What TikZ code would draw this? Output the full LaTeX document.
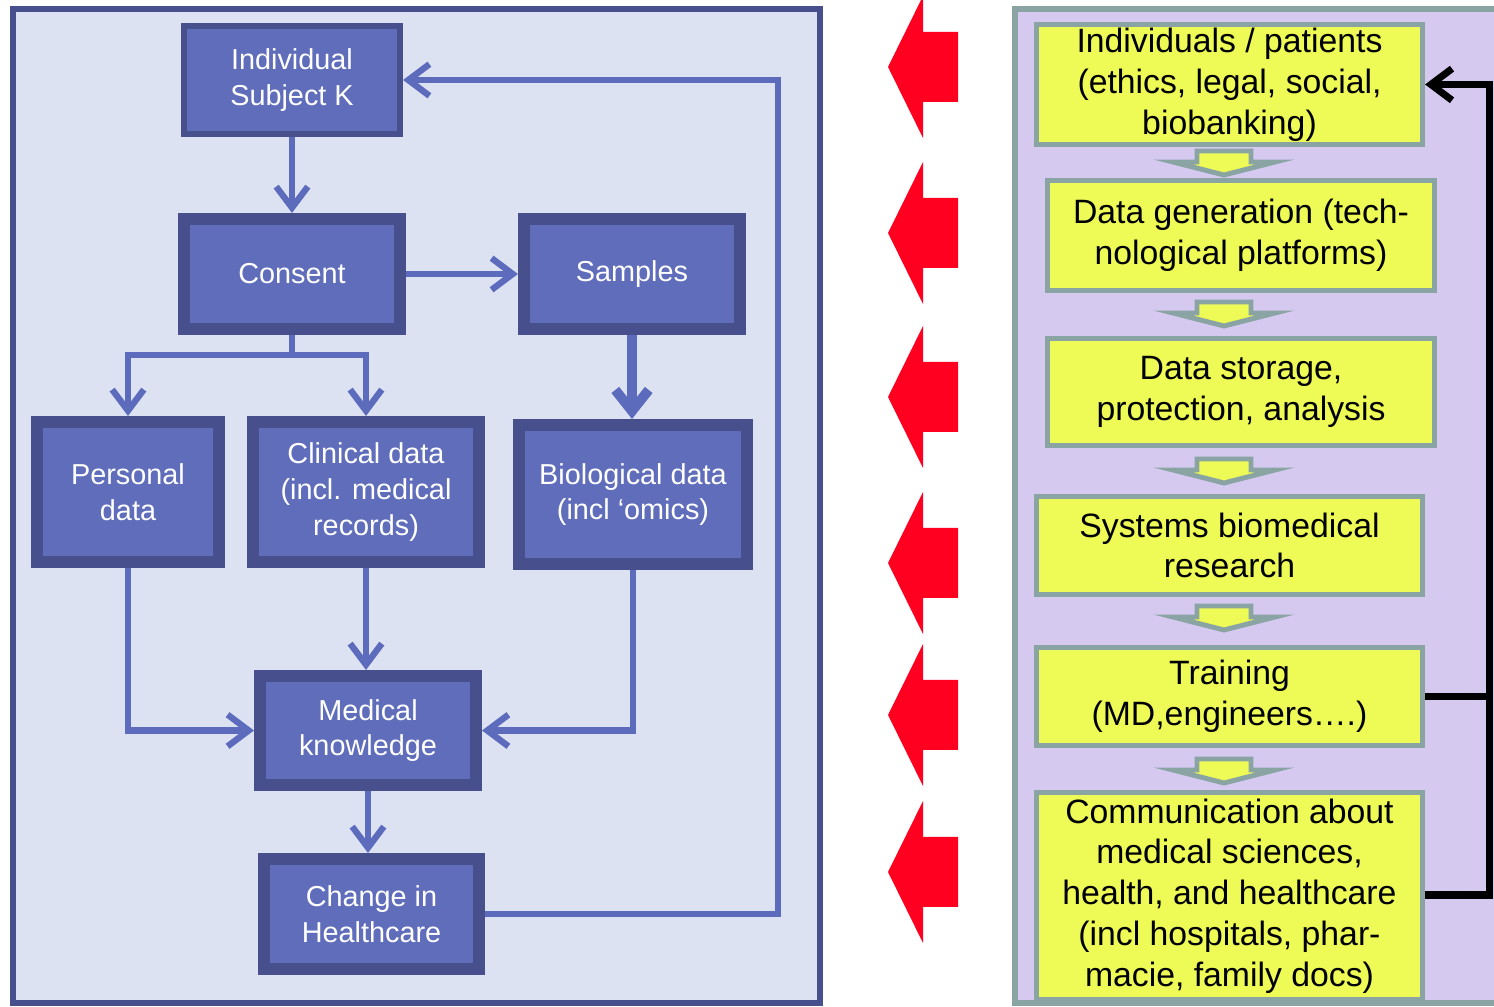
\documentclass[tikz,border=0pt]{standalone}
\usepackage{fontspec}
\setmainfont{Liberation Sans}
\usetikzlibrary{arrows.meta}
\definecolor{lbg}{HTML}{DDE2F2}
\definecolor{lbord}{HTML}{47508C}
\definecolor{lfill}{HTML}{5F6DBB}
\definecolor{lconn}{HTML}{5D6BBC}
\definecolor{rbg}{HTML}{D5C9EF}
\definecolor{rbord}{HTML}{8AA3A3}
\definecolor{yfill}{HTML}{EEFA55}
\definecolor{redarr}{HTML}{FF0020}
\tikzset{
  lbox/.style={draw=lbord, fill=lfill, line width=3.4pt, text=white, align=center,
    font=\fontsize{8.2}{10.2}\selectfont, inner sep=0pt},
  lboxthin/.style={lbox, line width=1.7pt},
  ybox/.style={draw=rbord, fill=yfill, line width=1.4pt, text=black, align=center,
    font=\fontsize{9.6}{11.6}\selectfont, inner sep=0pt},
  conn/.style={draw=lconn, line width=1.8pt},
  ltip/.style={-{Straight Barb[length=6pt,width=9pt]}},
  btip/.style={-{Straight Barb[length=6pt,width=9pt]}},
  blk/.style={draw=black, line width=2pt},
}
\begin{document}
\begin{tikzpicture}[x=0.01cm,y=-0.01cm]
\useasboundingbox (0,0) rectangle (1494,1007);
% left panel
\draw[draw=lbord, fill=lbg, line width=1.7pt] (13,9.5) rectangle (820,1003);
% right panel
\draw[draw=rbord, fill=rbg, line width=1.7pt] (1015,9.5) rectangle (1520,1003);

% left nodes
\node[lboxthin, minimum width=2.16cm, minimum height=1.08cm] (ind) at (292,80) {Individual\\Subject K};
\node[lbox, minimum width=2.16cm, minimum height=1.10cm] (cons) at (292,274) {Consent};
\node[lbox, minimum width=2.16cm, minimum height=1.10cm] (samp) at (632,274) {Samples};
\node[lbox, minimum width=1.82cm, minimum height=1.40cm] (pers) at (128,492) {Personal\\data};
\node[lbox, minimum width=2.26cm, minimum height=1.40cm] (clin) at (366,492) {Clinical data\\(incl. medical\\records)};
\node[lbox, minimum width=2.27cm, minimum height=1.39cm] (bio) at (633,494.5) {Biological data\\(incl ‘omics)};
\node[lbox, minimum width=2.16cm, minimum height=1.09cm] (med) at (368,730.5) {Medical\\knowledge};
\node[lbox, minimum width=2.15cm, minimum height=1.10cm] (chg) at (371.5,914) {Change in\\Healthcare};

% left connectors
\coordinate (br) at (292,355);
\coordinate (lpt) at (778,80);
\draw[conn,ltip] (ind.south) -- (ind.south |- cons.north);
\draw[conn,ltip] (cons.east) -- (samp.west);
\draw[conn] (cons.south) -- (br);
\draw[conn,ltip] (br) -| (pers.north);
\draw[conn,ltip] (br) -| (clin.north);
\draw[conn,line width=2.8pt,-{Straight Barb[length=6pt,width=9.5pt]}] (samp.south) -- (samp.south |- bio.north);
\draw[conn,ltip] (clin.south) -- (clin.south |- med.north);
\draw[conn,ltip] (pers.south) |- (med.west);
\draw[conn,ltip] (bio.south) |- (med.east);
\draw[conn,ltip] (med.south) -- (med.south |- chg.north);
\draw[conn,ltip] (chg.east) -| (lpt) -- (ind.east);

% red arrows
\foreach \c in {67,233,397,563,715,872}{
  \fill[redarr] (958,\c-35) -- (923,\c-35) -- (923,\c-71) -- (888,\c) -- (923,\c+71) -- (923,\c+35) -- (958,\c+35) -- cycle;
}

% right nodes
\node[ybox, minimum width=3.86cm, minimum height=1.20cm] (r1) at (1229.5,84.5) {Individuals / patients\\(ethics, legal, social,\\biobanking)};
\node[ybox, minimum width=3.87cm, minimum height=1.10cm] (r2) at (1241,235.5) {Data generation (tech-\\nological platforms)};
\node[ybox, minimum width=3.87cm, minimum height=1.07cm] (r3) at (1241,392) {Data storage,\\protection, analysis};
\node[ybox, minimum width=3.86cm, minimum height=0.98cm] (r4) at (1229.5,545.5) {Systems biomedical\\research};
\node[ybox, minimum width=3.86cm, minimum height=0.98cm] (r5) at (1229.5,696.5) {Training\\(MD,engineers….)};
\node[ybox, minimum width=3.86cm, minimum height=2.07cm] (r6) at (1229.5,896) {Communication about\\medical sciences,\\health, and healthcare\\(incl hospitals, phar-\\macie, family docs)};

% small down block arrows
\foreach \t in {151,302,459,606,759}{
  \draw[draw=rbord, fill=yfill, line width=1.4pt, line join=miter]
    (1197,\t) -- (1251,\t) -- (1251,\t+11) -- (1275,\t+11) -- (1224,\t+24) -- (1173,\t+11) -- (1197,\t+11) -- cycle;
}

% black feedback connector
\coordinate (jt) at (1489,696.5);
\coordinate (jtop) at (1489,84.5);
\draw[blk] (r5.east) -- (jt);
\draw[blk,btip] (r6.east |- 0,895) -| (jtop) -- (r1.east);
\end{tikzpicture}
\end{document}
